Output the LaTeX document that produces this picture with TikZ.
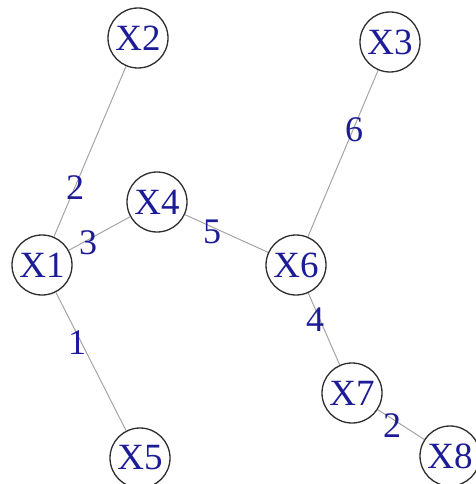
\documentclass[tikz,border=0pt]{standalone}
\usepackage{fontspec}
\setmainfont{Liberation Serif}
\definecolor{lblue}{RGB}{28,28,150}
\definecolor{edgegray}{RGB}{165,165,165}
\definecolor{ringgray}{RGB}{45,45,45}
\tikzset{
  vert/.style={circle, draw=ringgray, line width=1.3pt, minimum size=60pt, inner sep=0pt, text=lblue, font=\fontsize{37}{37}\selectfont},
  edgeline/.style={draw=edgegray, line width=1pt},
  elabel/.style={text=lblue, font=\fontsize{36}{36}\selectfont, inner sep=0pt}
}
\begin{document}
\begin{tikzpicture}[x=1pt,y=-1pt]
\useasboundingbox (0,0) rectangle (475,484);
\node[vert] (X1) at (42,265) {X1};
\node[vert] (X2) at (138,38) {X2};
\node[vert] (X3) at (390,42) {X3};
\node[vert] (X4) at (157,202) {X4};
\node[vert] (X5) at (140,458) {X5};
\node[vert] (X6) at (296,265) {X6};
\node[vert] (X7) at (352,393) {X7};
\node[vert] (X8) at (450,456) {X8};
\draw[edgeline] (X1) -- (X2);
\draw[edgeline] (X1) -- (X4);
\draw[edgeline] (X1) -- (X5);
\draw[edgeline] (X4) -- (X6);
\draw[edgeline] (X6) -- (X3);
\draw[edgeline] (X6) -- (X7);
\draw[edgeline] (X7) -- (X8);
\node[elabel] (l12) at (75,188) {2};
\node[elabel] (l14) at (88,243) {3};
\node[elabel] (l15) at (77,343) {1};
\node[elabel] (l46) at (212,232) {5};
\node[elabel] (l63) at (354,130) {6};
\node[elabel] (l67) at (315,320) {4};
\node[elabel] (l78) at (392,426) {2};
\end{tikzpicture}
\end{document}
